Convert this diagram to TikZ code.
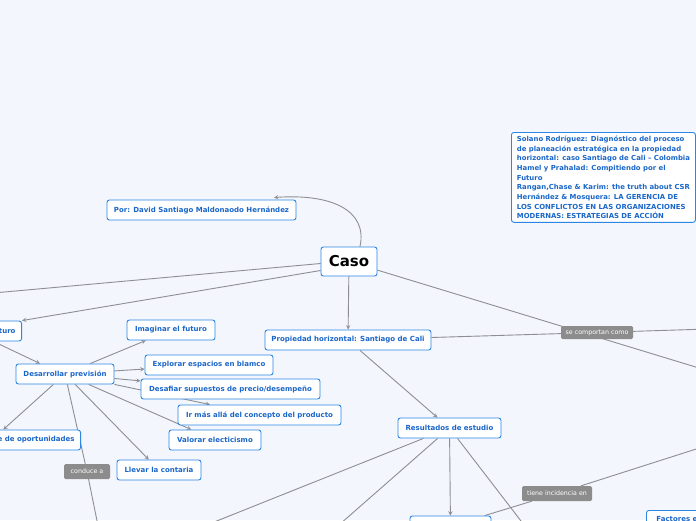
\documentclass[tikz,border=0pt]{standalone}
\usepackage{fontspec}
\usepackage{tikz}
\usetikzlibrary{backgrounds}
\setmainfont{DejaVu Sans}
\definecolor{MapBack}{HTML}{F3F6FD}
\definecolor{MapBlue}{HTML}{2B87E3}
\definecolor{MapText}{HTML}{1A66C9}
\definecolor{MapLine}{HTML}{8E8E93}
\definecolor{MapTag}{HTML}{8C8C8C}

\begin{document}
\begin{tikzpicture}[x=1pt,y=-1pt,>=stealth]
  \tikzstyle{topic}=[draw=MapBlue,fill=white,rounded corners=2.5pt,line width=0.9pt,
    minimum height=20pt,inner xsep=6pt,text=MapText,
    font=\bfseries\fontsize{7}{8}\selectfont]
  \tikzstyle{tag}=[fill=MapTag,rounded corners=1.5pt,minimum height=15pt,
    inner xsep=3pt,text=white,font=\fontsize{6.3}{7}\selectfont]
  \tikzstyle{link}=[draw=MapLine,line width=0.9pt]
  \useasboundingbox (0,0) rectangle (696,520);
  \clip (0,0) rectangle (696,520);
  \node[topic,text=black,minimum width=56pt,minimum height=29pt,
    font=\bfseries\fontsize{15}{17}\selectfont] (caso) at (349,261.5) {Caso};
  \node[topic,minimum width=189pt] (por) at (201.5,210) {Por: David Santiago Maldonaodo Hernández};
  \node[topic,anchor=north west,align=left,minimum width=184pt,minimum height=87pt,
    inner xsep=5pt,font=\bfseries\fontsize{6.9}{9.7}\selectfont] (refs) at (511,132)
    {Solano Rodríguez: Diagnóstico del proceso\\
     de planeación estratégica en la propiedad\\
     horizontal: caso Santiago de Cali -- Colombia\\
     Hamel y Prahalad: Compitiendo por el\\
     Futuro\\
     Rangan,Chase \& Karim: the truth about CSR\\
     Hernández \& Mosquera: LA GERENCIA DE\\
     LOS CONFLICTOS EN LAS ORGANIZACIONES\\
     MODERNAS: ESTRATEGIAS DE ACCIÓN};
  \node[topic,anchor=east] (fut) at (22,331) {futuro};
  \node[topic,minimum width=98pt] (desa) at (65,374) {Desarrollar previsión};
  \node[topic,minimum width=88pt] (imag) at (171,330) {Imaginar el futuro};
  \node[topic,minimum width=128pt] (expl) at (209,365) {Explorar espacios en blamco};
  \node[topic,minimum width=179pt] (desaf) at (230.5,389) {Desafiar supuestos de precio/desempeño};
  \node[topic,minimum width=163pt] (mas) at (259.5,415) {Ir más allá del concepto del producto};
  \node[topic,minimum width=92pt] (elec) at (215,440) {Valorar electicismo};
  \node[topic,anchor=east] (opor) at (81,440) {e de oportunidades};
  \node[topic,minimum width=84pt] (cont) at (159,470) {Llevar la contaria};
  \node[topic,minimum width=166pt] (prop) at (348,340) {Propiedad horizontal: Santiago de Cali};
  \node[topic,minimum width=103pt] (resu) at (449.5,428) {Resultados de estudio};
  \node[topic,minimum width=81pt] (bott) at (450.5,526) {};
  \node[topic,anchor=north west,minimum width=120pt,minimum height=18pt,
    text width=100pt] (fact) at (646,510) {Factores e};
  \node[tag,minimum width=72pt,minimum height=13pt] (comp) at (597,332.5) {se comportan como};
  \node[tag,minimum width=46pt] (cond) at (87,471.5) {conduce a};
  \node[tag,minimum width=70pt] (tien) at (557,493.5) {tiene incidencia en};
  \coordinate (offL) at (-40,296);
  \coordinate (offR1) at (740,380.5);
  \coordinate (offR2) at (740,328);
  \coordinate (offR3) at (740,435);
  \coordinate (offB1) at (119,560);
  \coordinate (offB2) at (299,560);
  \coordinate (offB3) at (551,560);
  \coordinate (offB4) at (105,560);
  \begin{scope}[on background layer]
    \clip (0,0) rectangle (696,520);
    \fill[MapBack] (0,0) rectangle (696,520);
    \draw[link,->] ([xshift=11pt]caso.north) .. controls +(8,-37) and +(56,-4) .. ([xshift=72.5pt,yshift=2pt]por.north);
    \draw[link,->] ([yshift=-9pt]caso.west) -- (fut.north east);
    \draw[link] ([yshift=-2pt]caso.west) -- (offL);
    \draw[link,->] (caso) -- (prop);
    \draw[link] (caso) -- (offR1);
    \draw[link] (prop) -- (comp) -- (offR2);
    \draw[link,->] (prop) -- (resu);
    \draw[link,->] ([xshift=9pt]fut.south west) -- ([xshift=-25pt]desa.north);
    \draw[link,->] (desa) -- (imag);
    \draw[link,->] (desa) -- (expl);
    \draw[link,->] (desa) -- (desaf);
    \draw[link,->] (desa) -- (mas);
    \draw[link,->] (desa) -- (elec);
    \draw[link,->] (desa) -- (cont);
    \draw[link,->] (desa) -- ([xshift=12pt]opor.north west);
    \draw[link] (desa) -- (cond) -- (offB4);
    \draw[link] (resu) -- (offB1);
    \draw[link] (resu) -- (offB2);
    \draw[link,->] (resu) -- (bott);
    \draw[link] (resu) -- (offB3);
    \draw[link] (bott) -- (tien) -- (offR3);
  \end{scope}
\end{tikzpicture}
\end{document}
